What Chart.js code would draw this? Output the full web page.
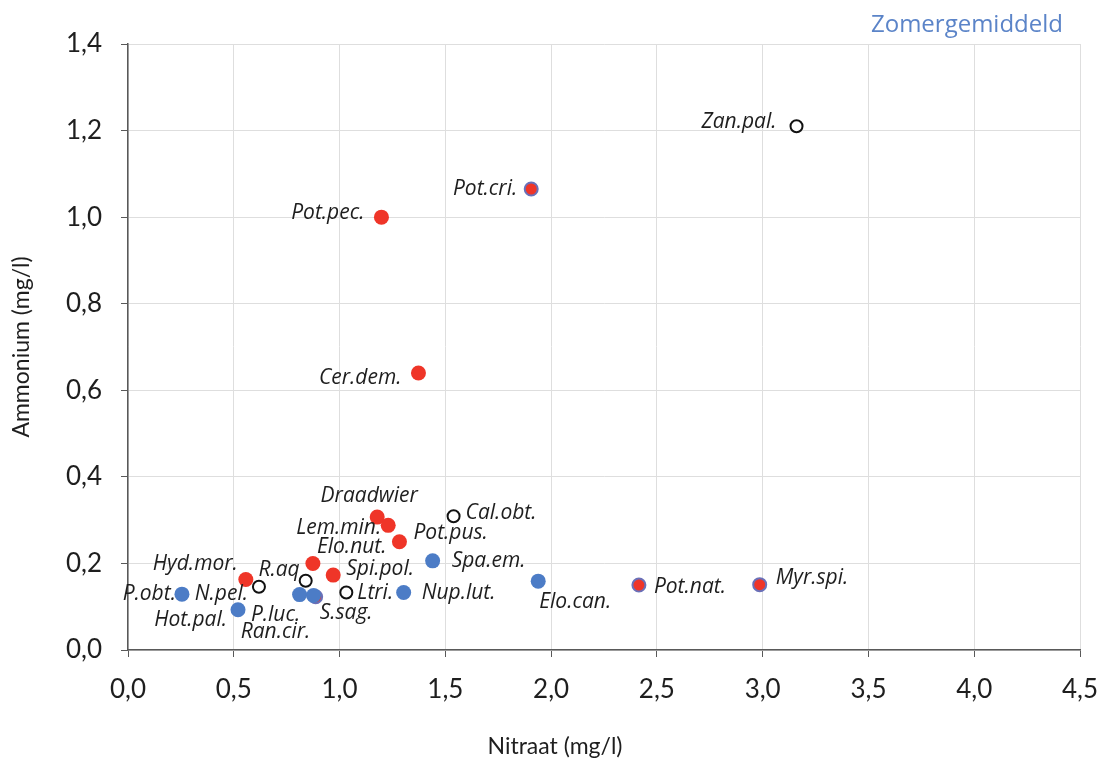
<!DOCTYPE html>
<html>
<head>
<meta charset="utf-8">
<script src="https://cdn.jsdelivr.net/npm/chart.js@4.4.1/dist/chart.umd.min.js"></script>
<style>
  html, body { margin: 0; padding: 0; background: #ffffff; overflow: hidden; }
  #wrap { width: 1105px; height: 765px; position: relative; }
  canvas { display: block; }
</style>
</head>
<body>
<div id="wrap"><canvas id="scatter"></canvas></div>
<script>
/* ── data (summer averages) ───────────────────────── */
const soorten = [
  'Zan.pal.', 'Pot.cri.', 'Pot.pec.', 'Cer.dem.', 'Draadwier', 'Lem.min.',
  'Pot.pus.', 'Cal.obt.', 'Spa.em.', 'Elo.nut.', 'Spi.pol.', 'R.aq',
  'Hyd.mor.', 'N.pel.', 'P.obt.', 'Hot.pal.', 'P.luc.', 'Ran.cir.',
  'S.sag.', 'Ltri.', 'Nup.lut.', 'Elo.can.', 'Pot.nat.', 'Myr.spi.',
];
const nitraat = [
  3.16, 1.906, 1.198, 1.373, 1.178, 1.230,
  1.283, 1.539, 1.440, 0.874, 0.970, 0.840,
  0.557, 0.619, 0.255, 0.520, 0.811, 0.877,
  0.887, 1.032, 1.303, 1.939, 2.415, 2.986,
];
const ammonium = [
  1.210, 1.065, 1.000, 0.640, 0.307, 0.288,
  0.250, 0.309, 0.206, 0.200, 0.173, 0.160,
  0.163, 0.146, 0.129, 0.093, 0.128, 0.126,
  0.123, 0.133, 0.133, 0.159, 0.150, 0.151,
];
// marker group: open, blue, red, redBlue
const groep = [
  'open', 'redBlue', 'red', 'red', 'red', 'red',
  'red', 'open', 'blue', 'red', 'red', 'open',
  'red', 'open', 'blue', 'blue', 'blue', 'blue',
  'redBlue', 'open', 'blue', 'blue', 'redBlue', 'redBlue',
];
const xTicks = [0, 0.5, 1, 1.5, 2, 2.5, 3, 3.5, 4, 4.5];
const yTicks = [0, 0.2, 0.4, 0.6, 0.8, 1.0, 1.2, 1.4];

/* ── styles ───────────────────────────────────────── */
const RED  = '#ef3528';
const BLUE = '#4c7cc6';
const AXIS = '#595959';
const GRID = '#dedede';
const TXT  = '#1e1e1e';

const groupStyle = {
  blue:    { backgroundColor: BLUE,   borderColor: BLUE, borderWidth: 0, pointRadius: 7.5 },
  open:    { backgroundColor: '#fff', borderColor: '#111', borderWidth: 2, pointRadius: 6 },
  red:     { backgroundColor: RED,    borderColor: RED,  borderWidth: 0, pointRadius: 7.5 },
  redBlue: { backgroundColor: RED,    borderColor: '#6a70b8', borderWidth: 2, pointRadius: 6.5 },
};

// label offset from the marker centre: [dx, dy, align]
const labelPos = {
  'Zan.pal.':  [-20, -4, 'right'],
  'Pot.cri.':  [-14, 0, 'right'],
  'Pot.pec.':  [-17, -4, 'right'],
  'Cer.dem.':  [-17, 5, 'right'],
  'Draadwier': [-8, -21, 'center'],
  'Lem.min.':  [-7, 3, 'right'],
  'Pot.pus.':  [14, -9, 'left'],
  'Cal.obt.':  [12, -3, 'left'],
  'Spa.em.':   [19, 0, 'left'],
  'Elo.nut.':  [4, -16, 'left'],
  'Spi.pol.':  [13, -6, 'left'],
  'R.aq':      [-6, -11, 'right'],
  'Hyd.mor.':  [-8, -15, 'right'],
  'N.pel.':    [-11, 7, 'right'],
  'P.obt.':    [-6, 0, 'right'],
  'Hot.pal.':  [-11, 10, 'right'],
  'P.luc.':    [-24, 20, 'center'],
  'Ran.cir.':  [-38, 37, 'center'],
  'S.sag.':    [4, 16, 'left'],
  'Ltri.':     [11, 1, 'left'],
  'Nup.lut.':  [18, 1, 'left'],
  'Elo.can.':  [1, 21, 'left'],
  'Pot.nat.':  [15, 2, 'left'],
  'Myr.spi.':  [16, -7, 'left'],
};

const fmt = (v) => v.toFixed(1).replace('.', ',');

/* ── datasets per marker group ────────────────────── */
const order = ['blue', 'open', 'red', 'redBlue'];
const datasets = order.map((g) => ({
  label: g,
  data: soorten
    .map((s, i) => ({ x: nitraat[i], y: ammonium[i], naam: s, g: groep[i] }))
    .filter((p) => p.g === g),
  pointHoverRadius: groupStyle[g].pointRadius,
  ...groupStyle[g],
}));

/* ── plugin: point labels, axis titles, caption ───── */
const labelPlugin = {
  id: 'labels',
  afterDatasetsDraw(chart) {
    const { ctx, chartArea } = chart;
    ctx.save();
    ctx.fillStyle = TXT;
    ctx.font = 'italic 21px "Open Sans"';
    ctx.textBaseline = 'middle';
    chart.data.datasets.forEach((ds, di) => {
      chart.getDatasetMeta(di).data.forEach((el, i) => {
        const naam = ds.data[i].naam;
        const [dx, dy, align] = labelPos[naam] || [10, 0, 'left'];
        ctx.textAlign = align;
        ctx.fillText(naam, el.x + dx, el.y + dy);
      });
    });

    // axis titles
    ctx.font = '23px Lato';
    ctx.textAlign = 'center';
    ctx.fillText('Nitraat (mg/l)', 555, 747);
    ctx.save();
    ctx.translate(22, (chartArea.top + chartArea.bottom) / 2);
    ctx.rotate(-Math.PI / 2);
    ctx.fillText('Ammonium (mg/l)', 0, 0);
    ctx.restore();

    // caption
    ctx.fillStyle = '#5b84c8';
    ctx.font = '24px "Open Sans"';
    ctx.textAlign = 'right';
    ctx.fillText('Zomergemiddeld', 1063, 25);
    ctx.restore();
  },
};

new Chart(document.getElementById('scatter'), {
  type: 'scatter',
  data: { datasets },
  options: {
    responsive: true,
    maintainAspectRatio: false,
    animation: false,
    layout: { padding: { left: 0, right: 25, top: 44, bottom: 0 } },
    plugins: {
      legend: { display: false },
      tooltip: { enabled: false },
    },
    scales: {
      x: {
        type: 'linear',
        min: 0,
        max: 4.5,
        afterBuildTicks: (s) => { s.ticks = xTicks.map((v) => ({ value: v })); },
        afterFit: (s) => { s.height = 115; s.paddingLeft = 0; s.paddingRight = 0; },
        grid:   { color: GRID, lineWidth: 1, tickColor: AXIS, tickLength: 7 },
        border: { color: AXIS, width: 1.5 },
        ticks:  { color: TXT, font: { family: 'Lato', size: 26 }, padding: 17, maxRotation: 0,
                  callback: (v) => fmt(v) },
      },
      y: {
        type: 'linear',
        min: 0,
        max: 1.4,
        afterBuildTicks: (s) => { s.ticks = yTicks.map((v) => ({ value: v })); },
        afterFit: (s) => { s.width = 128; s.paddingTop = 0; s.paddingBottom = 0; },
        grid:   { color: GRID, lineWidth: 1, tickColor: AXIS, tickLength: 7 },
        border: { color: AXIS, width: 1.5 },
        ticks:  { color: TXT, font: { family: 'Lato', size: 26 }, padding: 19,
                  callback: (v) => fmt(v) },
      },
    },
  },
  plugins: [labelPlugin],
});
</script>
</body>
</html>
